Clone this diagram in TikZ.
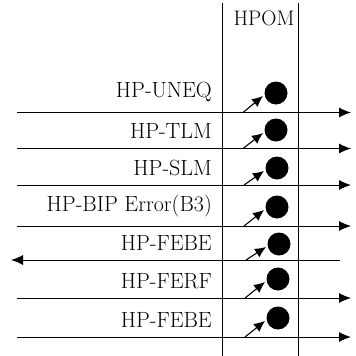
\documentclass[tikz,border=0pt]{standalone}
\usetikzlibrary{arrows.meta}
\begin{document}
\begin{tikzpicture}[x=1pt,y=-1pt,
  lbl/.style={anchor=base east,inner sep=0pt,font=\fontsize{22}{26}\selectfont},
  dotnode/.style={circle,fill=black,minimum size=23pt,inner sep=0pt},
  sigline/.style={line width=1pt,-{Latex[length=12pt,width=10pt]}},
  hint/.style={line width=1.1pt,-{Latex[length=11pt,width=10pt]}},
  border/.style={line width=0.9pt}]
\useasboundingbox (0,0) rectangle (356,356);

% HPOM column
\coordinate (lt) at (222,3);
\coordinate (lb) at (222,356);
\coordinate (rt) at (298,3);
\coordinate (rb) at (298,356);
\draw[border] (lt) -- (lb);
\draw[border] (rt) -- (rb);
\node[anchor=base,inner sep=0pt,font=\fontsize{21}{25}\selectfont] (hpom) at (264,25) {HPOM};

% signal rows: line y / label baseline / dot x / dot y / label / direction
\foreach \i/\ly/\by/\dx/\dy/\txt/\dir in {
  1/112.5/97/276/93/HP-UNEQ/r,
  2/148.5/138/276/130/HP-TLM/r,
  3/185/175/277/168/HP-SLM/r,
  4/226/211.5/277/207/HP-BIP Error(B3)/r,
  5/260/250/279/244/HP-FEBE/l,
  6/298/288/278/279/HP-FERF/r,
  7/337/327/278/318/HP-FEBE/r} {
  \node[lbl] (lab\i) at (212,\by) {\txt};
  \node[dotnode] (dot\i) at (\dx,\dy) {};
  \coordinate (tail\i) at (\dx-33,\ly);
  \coordinate (tip\i) at (\dx-13,\dy+3);
  \draw[hint] (tail\i) -- (tip\i);
  \if r\dir
    \coordinate (s\i) at (17,\ly);
    \coordinate (e\i) at (351,\ly);
  \else
    \coordinate (s\i) at (340,\ly);
    \coordinate (e\i) at (11,\ly);
  \fi
  \draw[sigline] (s\i) -- (e\i);
}
\end{tikzpicture}
\end{document}
